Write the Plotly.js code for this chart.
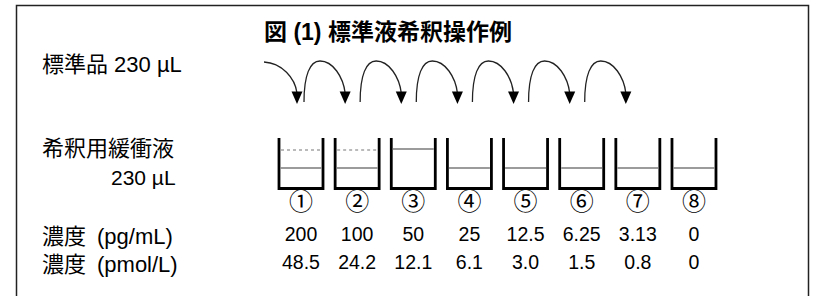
<!DOCTYPE html>
<html><head><meta charset="utf-8">
<script src="https://cdn.plot.ly/plotly-3.0.1.min.js"></script>
<style>html,body{margin:0;padding:0;background:#fff}</style>
</head><body><div id="chart" style="width:814px;height:296px"></div>
<script>
const titleText = '図 (1) 標準液希釈操作例';
const standardLabel = '標準品 230 µL';
const bufferLabel = ['希釈用緩衝液', '230 µL'];
const rowLabels = ['濃度\u2002(pg/mL)', '濃度\u2002(pmol/L)'];
const cupLabels = ['①','②','③','④','⑤','⑥','⑦','⑧'];
const concPg = ['200','100','50','25','12.5','6.25','3.13','0'];
const concPmol = ['48.5','24.2','12.1','6.1','3.0','1.5','0.8','0'];
const liquidHigh = [false,false,true,false,false,false,false,false];
const dottedLine = [true,true,false,false,false,false,false,false];

const W = 814, H = 296;
const U = 56.14;          // px per cup step
const X0 = 301;           // px of first cup centre
const px = p => p / U;    // pixel offset -> x units
const idx = cupLabels.map((_, i) => i);

const FONT = 'Liberation Sans, Arial, Noto Sans CJK JP, sans-serif';

const shapes = [];
// frame
shapes.push({type:'rect', xref:'paper', yref:'y', x0:16.5/W, x1:808.5/W, y0:5.5, y1:320,
  line:{color:'#222', width:1.5}, fillcolor:'rgba(0,0,0,0)'});

const cupHalf = px(22), cupTop = 138, cupBot = 188.5;
idx.forEach(i => {
  const xl = i - cupHalf, xr = i + cupHalf;
  shapes.push({type:'path', xref:'x', yref:'y',
    path:`M ${xl},${cupTop} L ${xl},${cupBot} L ${xr},${cupBot} L ${xr},${cupTop}`,
    line:{color:'#000', width:2.8}});
  const ly = liquidHigh[i] ? 149 : 168;
  shapes.push({type:'line', xref:'x', yref:'y', x0:xl+px(1.5), x1:xr-px(1.5), y0:ly, y1:ly,
    line:{color:'#7a7a7a', width:1.5}});
  if (dottedLine[i]) {
    shapes.push({type:'line', xref:'x', yref:'y', x0:xl+px(2), x1:xr-px(2), y0:150, y1:150,
      line:{color:'#777', width:1.2, dash:'dot'}});
  }
});

function head(hx) {
  shapes.push({type:'path', xref:'x', yref:'y',
    path:`M ${hx-px(5.5)},91.5 L ${hx+px(5.5)},91.5 L ${hx},104 Z`,
    fillcolor:'#000', line:{width:0}});
}
// first arrow from the standard
{
  const s = 0 - px(37), h = 0 - px(4);
  shapes.push({type:'path', xref:'x', yref:'y',
    path:`M ${s},62 C ${s+px(18)},63 ${h-px(2)},78 ${h},93`,
    line:{color:'#222', width:1.3}});
  head(h);
}
// transfer arcs
for (let i = 0; i < cupLabels.length - 2; i++) {
  const s = i + px(3), h = i + 1 - px(12);
  shapes.push({type:'path', xref:'x', yref:'y',
    path:`M ${s},102 C ${s},75 ${s+px(6)},61 ${s+px(16)},61 C ${s+px(29)},61 ${h-px(2)},77 ${h},93`,
    line:{color:'#222', width:1.3}});
  head(h);
}

const textTrace = (y, text, size) => ({
  type:'scatter', mode:'text', x:idx, y:idx.map(() => y), text:text,
  textposition:'middle center', cliponaxis:false, hoverinfo:'skip', showlegend:false,
  textfont:{family:FONT, size:size, color:'#000'}
});

const data = [
  textTrace(203.5, cupLabels, 24),
  textTrace(236.5, concPg, 19.5),
  textTrace(264, concPmol, 19.5)
];

const ann = (x, y, text, size, anchor, bold) => ({
  xref:'paper', yref:'y', x:x / W, y:y, text: bold ? `<b>${text}</b>` : text,
  showarrow:false, xanchor:anchor, yanchor:'middle',
  font:{family:FONT, size:size, color:'#000'}
});

const annotations = [
  ann(262, 31.5, titleText, 23, 'left', true),
  ann(40, 64, standardLabel, 22, 'left'),
  ann(40, 148, bufferLabel[0], 22, 'left'),
  ann(178, 177, bufferLabel[1], 21, 'right'),
  ann(40, 236.5, rowLabels[0], 22, 'left'),
  ann(40, 264, rowLabels[1], 22, 'left')
];

const layout = {
  width:W, height:H, margin:{l:0, r:0, t:0, b:0},
  paper_bgcolor:'#fff', plot_bgcolor:'#fff',
  xaxis:{range:[-X0/U, (W-X0)/U], visible:false, fixedrange:true},
  yaxis:{range:[H, 0], visible:false, fixedrange:true},
  shapes:shapes, annotations:annotations, showlegend:false
};

Plotly.newPlot('chart', data, layout, {staticPlot:true, displayModeBar:false});
</script></body></html>
